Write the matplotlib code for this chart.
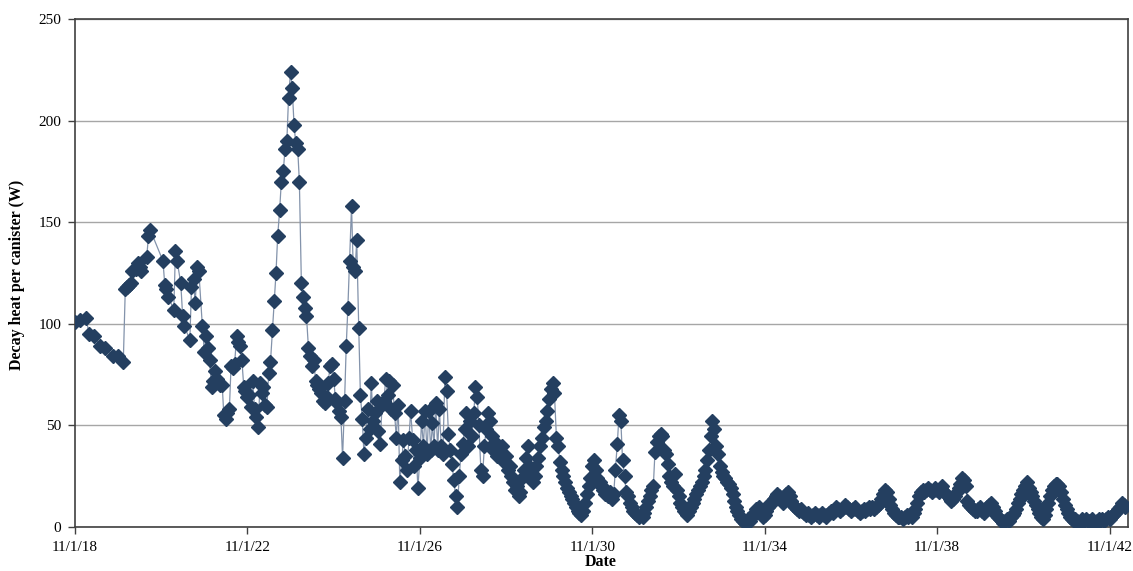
import matplotlib.pyplot as plt
import pandas as pd

plt.rcParams['font.family'] = ['Liberation Serif', 'DejaVu Serif']

# semi-monthly slots (1st and 15th), N = no reading in that slot
N = None
v2018 = [101, N, N, 102]
v2019 = [N, N, 103, N, 95, N, N, 94, N, N, 89, N, N, 88, N, N, N, 84, N, N, 84, N, N, 81]
v2020 = [117, 118, 119, 120, 126, N, 127, 130, 128, 126, N, N, 133, 143, 146, N, N, N, N, N, N, 131, 119, 117]
v2021 = [113, N, N, 107, 136, 131, N, 120, 104, 99, N, N, 92, 118, 122, 110, 128, 126, N, 99, 86, 94, 88, 82]
v2022 = [69, 72, 77, 73, 71, 70, 70, 55, 53, 56, 58, 79, 78, 80, 94, 91, 89, 82, 69, 67, 64, 65, 59, 72]
v2023 = [58, 54, 49, 71, 66, 69, 60, 59, 76, 81, 97, 111, 125, 143, 156, 170, 175, 186, 190, 211, 224, 216, 198, 189]
v2024 = [186, 170, 120, 113, 108, 104, 88, 84, 79, 82, 72, 70, 68, 66, 62, 61, 64, 71, 79, 80, 73, 63, 61, 57]
v2025 = [54, 34, 62, 89, 108, 131, 158, 128, 126, 141, 98, 65, 53, 36, 44, 58, 48, 71, 52, 56, 62, 47, 41, 60]
v2026 = [62, 73, 65, 72, 58, 70, 56, 44, 60, 22, 33, 43, 35, 28, 44, 57, 43, 30, 38, 19, 34, 52, 40, 57]
v2027 = [36, 57, 38, 51, 40, 61, 38, 58, 40, 36, 74, 67, 46, 38, 31, 23, 15, 10, 25, 36, 41, 48, 56, 40]
v2028 = [52, 45, 56, 69, 64, 50, 28, 25, 40, 48, 56, 52, 45, 38, 42, 35, 38, 36, 40, 32, 35, 28, 30, 25]
v2029 = [22, 18, 20, 15, 17, 24, 28, 34, 40, 30, 26, 22, 25, 30, 34, 40, 44, 49, 52, 57, 63, 68, 71, 66]
v2030 = [44, 40, 32, 28, 25, 22, 19, 17, 15, 14, 12, 10, 8, 7, 6, 8, 12, 16, 20, 24, 30, 33, 28, 24]
v2031 = [22, 20, 18, 16, 18, 15, 17, 14, 16, 28, 41, 55, 52, 33, 25, 17, 15, 12, 10, 8, 7, 6, 5, 6]
v2032 = [5, 7, 10, 13, 15, 18, 20, 37, 42, 45, 46, 45, 38, 36, 31, 25, 22, 20, 26, 18, 15, 12, 10, 8]
v2033 = [7, 6, 8, 10, 12, 14, 16, 18, 20, 22, 25, 28, 33, 38, 45, 52, 48, 40, 36, 30, 27, 25, 24, 22]
v2034 = [21, 19, 16, 13, 10, 8, 6, 4, 3, 2, 3, 4, 3, 5, 7, 9, 8, 10, 7, 5, 6, 8, 10, 12]
v2035 = [12, 14, 15, 16, 15, 14, 12, 14, 16, 17, 15, 13, 11, 10, 9, 8, 9, 8, 7, 6, 7, 6, 5, 6]
v2036 = [7, 6, 5, 6, 7, 6, 5, 6, 7, 8, 7, 9, 10, 9, 8, 9, 10, 11, 10, 9, 8, 9, 10, 9]
v2037 = [8, 7, 8, 9, 8, 9, 10, 9, 10, 9, 10, 11, 12, 14, 16, 18, 17, 14, 11, 9, 7, 6, 5, 5]
v2038 = [5, 4, 5, 6, 5, 6, 5, 7, 9, 12, 15, 17, 18, 17, 18, 19, 18, 17, 18, 19, 18, 17, 19, 20]
v2039 = [17, 16, 15, 14, 13, 14, 15, 17, 19, 21, 24, 23, 20, 13, 11, 10, 9, 8, 8, 9, 10, 8, 7, 8]
v2040 = [10, 11, 12, 10, 8, 6, 5, 4, 3, 2, 3, 4, 3, 5, 6, 7, 9, 12, 14, 16, 18, 20, 22, 19]
v2041 = [17, 15, 13, 11, 9, 7, 5, 4, 6, 9, 12, 15, 18, 20, 21, 21, 20, 17, 14, 11, 9, 7, 5, 4]
v2042 = [3, 4, 3, 2, 3, 4, 3, 4, 3, 3, 4, 3, 2, 3, 4, 3, 4, 3, 4, 5, 4, 5, 6, 7]
v2043 = [8, 9, 10, 12, 11, 10]

values = (v2018 + v2019 + v2020 + v2021 + v2022 + v2023 + v2024 + v2025 + v2026
          + v2027 + v2028 + v2029 + v2030 + v2031 + v2032 + v2033 + v2034 + v2035
          + v2036 + v2037 + v2038 + v2039 + v2040 + v2041 + v2042 + v2043)
dates = pd.date_range('2018-11-01', '2043-03-15', freq='SMS')
heat = pd.Series(values, index=dates, dtype=float).dropna()

tick_dates = pd.to_datetime(['2018-11-01', '2022-11-01', '2026-11-01', '2030-11-01',
                             '2034-11-01', '2038-11-01', '2042-11-01'])
tick_labels = [f'{d.month}/{d.day}/{d.year % 100:02d}' for d in tick_dates]

fig = plt.figure(figsize=(11.33, 5.71), dpi=100)
ax = fig.add_axes([0.0662, 0.0771, 0.9294, 0.8896])

ax.plot(heat.index, heat.values, color='#8393ab', lw=0.9,
        marker='D', ms=7.5, mfc='#243f60', mec='#243f60', zorder=3)

ax.set_ylim(0, 250)
ax.set_yticks(range(0, 251, 50))
ax.set_xlim(pd.Timestamp('2018-11-01'), pd.Timestamp('2043-04-06'))
ax.set_xticks(tick_dates)
ax.set_xticklabels(tick_labels)

ax.grid(axis='y', color='#a6a6a6', lw=1)
ax.set_axisbelow(True)
for s in ax.spines.values():
    s.set_color('#404040')
    s.set_linewidth(1.2)
ax.tick_params(direction='out', length=5, width=1, color='#404040', labelsize=11, pad=5)

fig.text(17 / 1133, 1 - 275 / 571, 'Decay heat per canister (W)', rotation=90,
         ha='center', va='center', fontsize=11.5, fontweight='bold')
fig.text(601 / 1133, 1 - 570 / 571, 'Date', ha='center', va='bottom',
         fontsize=11.5, fontweight='bold')

fig.savefig('out.png', dpi=100)
